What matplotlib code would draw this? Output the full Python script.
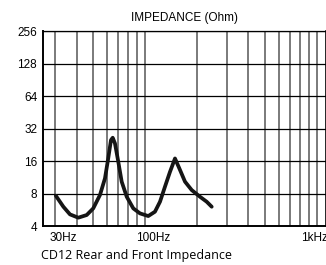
import matplotlib
matplotlib.use("Agg")
import matplotlib.pyplot as plt
import matplotlib.transforms as mtrans

# impedance curve (Hz, Ohm)
freq = [30.3, 33.5, 36.6, 40.9, 45.8, 50.0, 54.7, 58.5, 61.1, 63.4, 64.9, 66.9,
        69.9, 73.2, 78.3, 85.5, 93.5, 104.5, 114.3, 122.3, 130.7, 139.8, 149.5,
        158.4, 171, 187, 209, 228.6, 244.5]
imp = [7.63, 6.04, 5.13, 4.78, 5.06, 5.83, 7.75, 11.06, 16.9, 25.0, 26.3, 23.3,
       15.8, 10.3, 7.47, 5.83, 5.24, 4.95, 5.43, 6.72, 9.25, 12.7, 16.9,
       13.7, 10.3, 8.62, 7.47, 6.72, 6.04]

y_ticks = [4, 8, 16, 32, 64, 128, 256]
x_grid = [30, 40, 50, 60, 70, 80, 90, 100, 200, 300, 400, 500, 600, 700, 800, 900, 1000]
x_ticks = [30, 100, 1000]
x_labels = ['30Hz', '100Hz', '1kHz']

fig = plt.figure(figsize=(3.26, 2.65), dpi=100)
ax = fig.add_axes([0.131, 0.147, 0.869, 0.736])
ax.set_xscale('log')
ax.set_yscale('log', base=2)
ax.set_xlim(25.4, 1131)
ax.set_ylim(4, 256)

for f in x_grid:
    ax.axvline(f, color='#707070', lw=1.3, zorder=1)
for v in y_ticks:
    ax.axhline(v, color='black', lw=0.9, zorder=1)

ax.plot(freq, imp, color='#151515', lw=2.7, solid_capstyle='round',
        solid_joinstyle='round', zorder=3)

ax.set_yticks(y_ticks)
ax.set_yticklabels([str(v) for v in y_ticks], fontsize=8.5, family='Liberation Sans')
ax.set_xticks(x_ticks)
ax.set_xticklabels(x_labels, fontsize=8.5, family='Liberation Sans')
ax.minorticks_off()
ax.tick_params(length=0, pad=4)
for lab, dx in zip(ax.get_xticklabels(), [8, 8, -2]):
    lab.set_transform(lab.get_transform()
                      + mtrans.ScaledTranslation(dx / 100, 0, fig.dpi_scale_trans))

for s in ['left', 'bottom']:
    ax.spines[s].set_linewidth(1.4)
ax.spines['top'].set_linewidth(0.9)
ax.spines['right'].set_linewidth(1.2)

ax.set_title('IMPEDANCE (Ohm)', fontsize=8.5, family='Liberation Sans', pad=7)
fig.text(41 / 326, 1 - 255 / 265, 'CD12 Rear and Front Impedance', fontsize=9,
         family='Open Sans', va='center', ha='left')

fig.savefig('out.png', dpi=100)
